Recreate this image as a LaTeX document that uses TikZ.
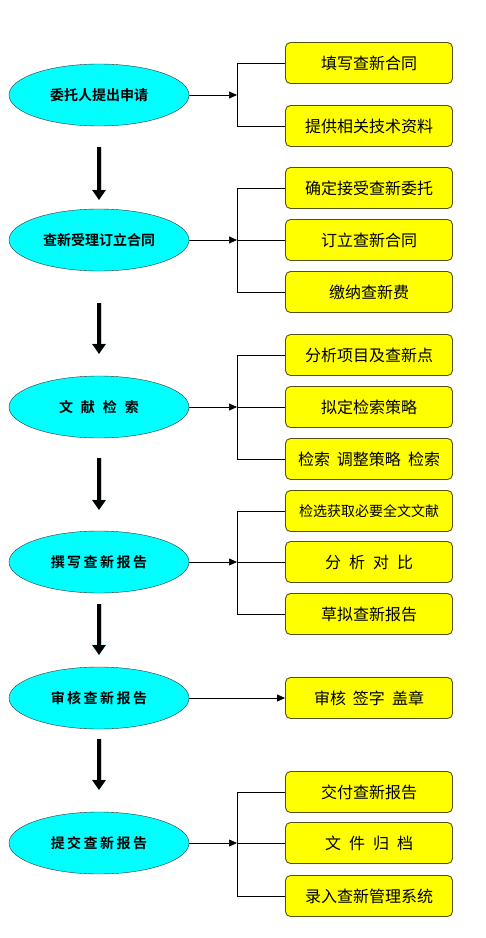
\documentclass[tikz,border=0pt]{standalone}
\usepackage{fontspec}
\setmainfont{Noto Sans CJK SC}[BoldFont={Noto Sans CJK SC Bold}]
\usepackage{tikz}
\usetikzlibrary{shapes.geometric,arrows.meta}
\pgfdeclarelayer{bg}
\pgfsetlayers{bg,main}
\definecolor{stepcyan}{RGB}{0,255,255}
\definecolor{taskyellow}{RGB}{255,255,0}
\definecolor{taskedge}{RGB}{85,80,20}
\newcommand{\kgap}{\hspace{2.5pt}}
\newcommand{\wgap}{\hspace{8pt}}
\tikzset{
    stage/.style={ellipse, draw=black!80, fill=stepcyan, minimum width=180pt, minimum height=62pt, inner sep=0pt, font=\fontsize{14pt}{14pt}\selectfont\bfseries},
    task/.style={rectangle, rounded corners=5pt, draw=taskedge, line width=0.9pt, fill=taskyellow, minimum width=167pt, minimum height=41pt, inner sep=0pt, font=\fontsize{16pt}{16pt}\selectfont},
    link/.style={draw=black, line width=0.7pt},
    feed/.style={link, -{Triangle[length=8pt,width=7pt]}},
    down/.style={draw=black, line width=4pt, -{Triangle[length=10pt,width=13pt]}, preaction={draw=stepcyan!60, line width=5pt, -{Triangle[length=10.5pt,width=14pt]}}}
}

\begin{document}
\begin{tikzpicture}
    \useasboundingbox (0pt, 0pt) rectangle (486pt, -938pt);

    \node (s1) [stage] at (99pt, -95pt) {委托人提出申请};
    \node (s2) [stage] at (99pt, -240pt) {查新受理订立合同};
    \node (s3) [stage] at (99pt, -407pt) {文\wgap 献\wgap 检\wgap 索};
    \node (s4) [stage] at (99pt, -562pt) {撰\kgap 写\kgap 查\kgap 新\kgap 报\kgap 告};
    \node (s5) [stage] at (99pt, -698pt) {审\kgap 核\kgap 查\kgap 新\kgap 报\kgap 告};
    \node (s6) [stage] at (99pt, -843pt) {提\kgap 交\kgap 查\kgap 新\kgap 报\kgap 告};

    \node (t1) [task] at (369pt, -63pt) {填写查新合同};
    \node (t2) [task] at (369pt, -126pt) {提供相关技术资料};
    \node (t3) [task] at (369pt, -188pt) {确定接受查新委托};
    \node (t4) [task] at (369pt, -240pt) {订立查新合同};
    \node (t5) [task] at (369pt, -292pt) {缴纳查新费};
    \node (t6) [task] at (369pt, -355pt) {分析项目及查新点};
    \node (t7) [task] at (369pt, -407pt) {拟定检索策略};
    \node (t8) [task] at (369pt, -459pt) {检索\hspace{7pt}调整策略\hspace{7pt}检索};
    \node (t9) [task, font=\fontsize{14pt}{14pt}\selectfont] at (369pt, -511pt) {检选获取必要全文文献};
    \node (t10) [task] at (369pt, -562pt) {分\wgap 析\wgap 对\wgap 比};
    \node (t11) [task] at (369pt, -614pt) {草拟查新报告};
    \node (t12) [task] at (369pt, -698pt) {审核\hspace{7pt}签字\hspace{7pt}盖章};
    \node (t13) [task] at (369pt, -792pt) {交付查新报告};
    \node (t14) [task] at (369pt, -843pt) {文\wgap 件\wgap 归\wgap 档};
    \node (t15) [task] at (369pt, -896pt) {录入查新管理系统};

    \coordinate (j1) at (237pt, -95pt);
    \coordinate (j2) at (237pt, -240pt);
    \coordinate (j3) at (237pt, -407pt);
    \coordinate (j4) at (237pt, -562pt);
    \coordinate (j6) at (237pt, -843pt);

    \coordinate (d1a) at (99pt, -147pt);
    \coordinate (d1b) at (99pt, -200pt);
    \coordinate (d2a) at (99pt, -303pt);
    \coordinate (d2b) at (99pt, -354pt);
    \coordinate (d3a) at (99pt, -458pt);
    \coordinate (d3b) at (99pt, -510pt);
    \coordinate (d4a) at (99pt, -604pt);
    \coordinate (d4b) at (99pt, -655pt);
    \coordinate (d5a) at (99pt, -739pt);
    \coordinate (d5b) at (99pt, -790pt);

    \begin{pgfonlayer}{bg}
        \draw[link] (t1.west) -- (t1.west -| j1) -- (t2.west -| j1) -- (t2.west);
        \draw[link] (t3.west) -- (t3.west -| j2) -- (t5.west -| j2) -- (t5.west);
        \draw[link] (t4.west) -- (j2);
        \draw[link] (t6.west) -- (t6.west -| j3) -- (t8.west -| j3) -- (t8.west);
        \draw[link] (t7.west) -- (j3);
        \draw[link] (t9.west) -- (t9.west -| j4) -- (t11.west -| j4) -- (t11.west);
        \draw[link] (t10.west) -- (j4);
        \draw[link] (t13.west) -- (t13.west -| j6) -- (t15.west -| j6) -- (t15.west);
        \draw[link] (t14.west) -- (j6);
    \end{pgfonlayer}

    \draw[feed] (s1) -- (j1);
    \draw[feed] (s2) -- (j2);
    \draw[feed] (s3) -- (j3);
    \draw[feed] (s4) -- (j4);
    \draw[feed] (s5) -- (t12);
    \draw[feed] (s6) -- (j6);

    \draw[down] (d1a) -- (d1b);
    \draw[down] (d2a) -- (d2b);
    \draw[down] (d3a) -- (d3b);
    \draw[down] (d4a) -- (d4b);
    \draw[down] (d5a) -- (d5b);
\end{tikzpicture}
\end{document}
